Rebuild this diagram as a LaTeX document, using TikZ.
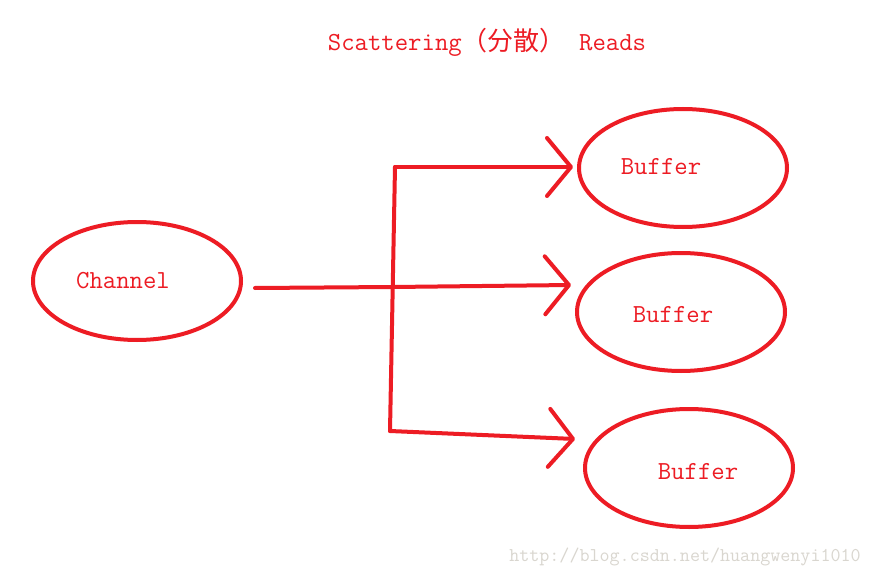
\documentclass[tikz,border=0pt]{standalone}
\usepackage{fontspec}
\newfontfamily\cjk{Noto Sans CJK SC}
\usetikzlibrary{shapes.geometric,arrows.meta}
\definecolor{pred}{HTML}{ED1C24}
\definecolor{wm}{HTML}{D9D6CF}
\tikzset{
  blob/.style={draw=pred, line width=4pt, ellipse, inner sep=0pt, minimum width=208pt, minimum height=118pt},
  lbl/.style={text=pred, font=\ttfamily\fontsize{26}{30}\selectfont, inner sep=0pt},
  conn/.style={draw=pred, line width=4pt, line cap=round, line join=round},
  tip/.style={-{Straight Barb[length=24pt, width=58pt, line cap=round, line join=round]}}
}
\begin{document}
\begin{tikzpicture}[x=1pt,y=-1pt]
\useasboundingbox (0,0) rectangle (871,578);
\fill[white] (0,0) rectangle (871,578);
% title
\node[lbl] (title) at (487,42) {Scattering{\cjk\fontsize{26}{30}\selectfont（分散）} Reads};
% ellipses
\node[blob] (ch) at (137,281) {};
\node[blob] (b1) at (683,168) {};
\node[blob] (b2) at (681,312) {};
\node[blob] (b3) at (689,468) {};
% labels
\node[lbl] (chl) at (123,281) {Channel};
\node[lbl] (b1l) at (661,167) {Buffer};
\node[lbl] (b2l) at (673,315) {Buffer};
\node[lbl] (b3l) at (698,472) {Buffer};
% connector points
\coordinate (chS) at (255,288);
\coordinate (Jm) at (393,287);
\coordinate (Jt) at (395,167);
\coordinate (Jb) at (390,431);
\coordinate (b1in) at (573,167);
\coordinate (b2in) at (571,285);
\coordinate (b3in) at (575,439);
% connectors
\draw[conn] (Jt) -- (Jb);
\draw[conn,tip] (chS) -- (Jm) -- (b2in);
\draw[conn,tip] (Jt) -- (b1in);
\draw[conn,tip] (Jb) -- (b3in);
% watermark
\node[text=wm, font=\ttfamily\fontsize{19.5}{22}\selectfont, inner sep=0pt] (wmk) at (685,557) {http://blog.csdn.net/huangwenyi1010};
\end{tikzpicture}
\end{document}
